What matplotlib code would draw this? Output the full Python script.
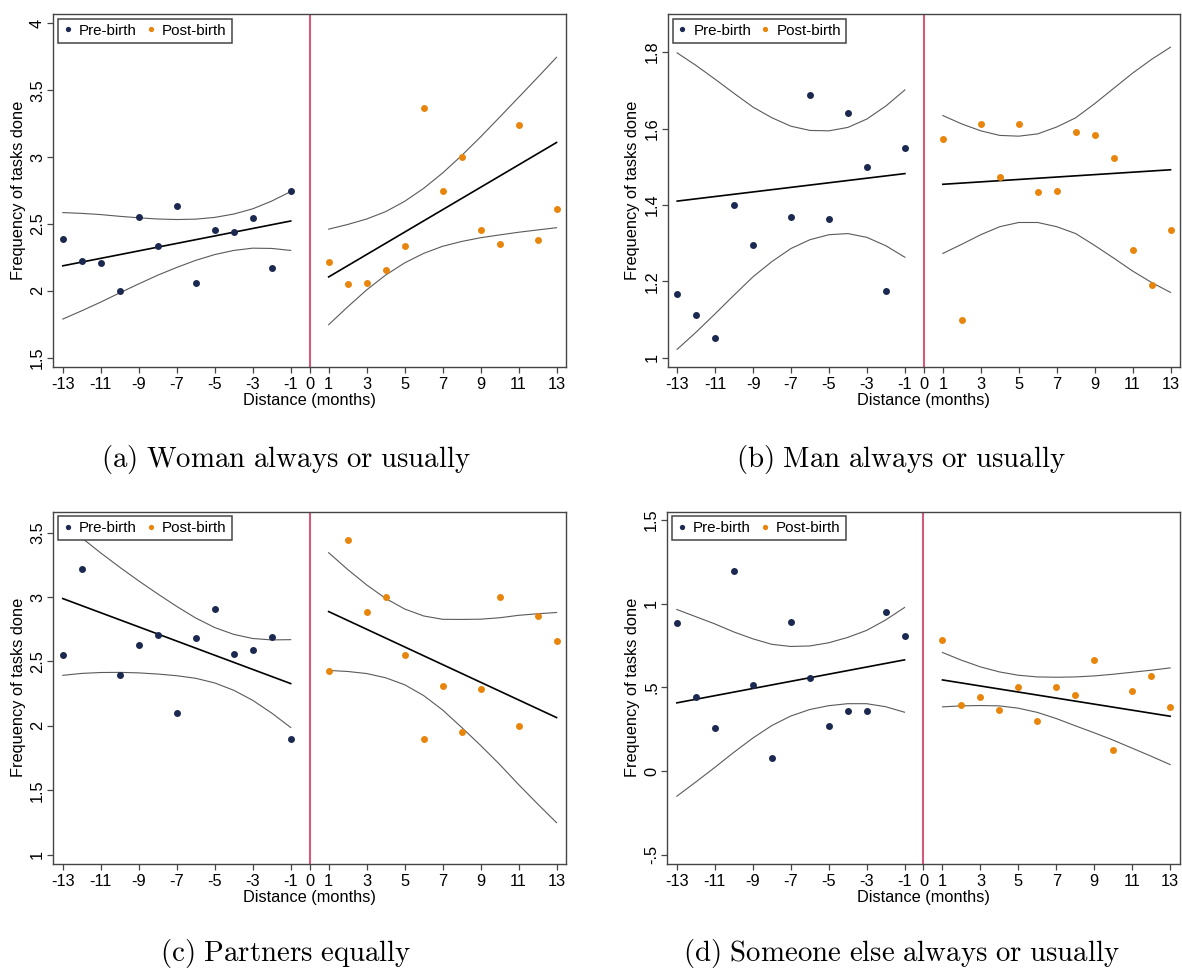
import numpy as np
import matplotlib.pyplot as plt
from matplotlib.lines import Line2D

plt.rcParams['font.family'] = ['Liberation Sans', 'DejaVu Sans']
plt.rcParams['mathtext.fontset'] = 'cm'

nan = np.nan
months_pre = np.arange(-13, 0)
months_post = np.arange(1, 14)
xticks = [-13, -11, -9, -7, -5, -3, -1, 0, 1, 3, 5, 7, 9, 11, 13]

# (a) Woman always or usually
woman_pre = [2.388, 2.221, 2.209, 2.000, 2.555, 2.333, 2.632, 2.062, 2.453, 2.440, 2.545, 2.174, 2.744]
woman_post = [2.214, 2.050, 2.055, 2.159, 2.333, 3.366, 2.749, 3.000, 2.458, 2.348, 3.239, 2.381, 2.609]
woman_fit_pre = [2.187, 2.522]
woman_fit_post = [2.104, 3.109]
woman_hi_pre = [2.585, 2.579, 2.570, 2.557, 2.546, 2.537, 2.533, 2.536, 2.549, 2.574, 2.613, 2.671, 2.742]
woman_lo_pre = [1.789, 1.851, 1.916, 1.985, 2.052, 2.117, 2.175, 2.228, 2.271, 2.302, 2.319, 2.317, 2.302]
woman_hi_post = [2.461, 2.496, 2.537, 2.592, 2.669, 2.766, 2.881, 3.011, 3.151, 3.298, 3.446, 3.595, 3.746]
woman_lo_post = [1.747, 1.880, 2.007, 2.118, 2.209, 2.280, 2.333, 2.369, 2.397, 2.418, 2.438, 2.455, 2.472]

# (b) Man always or usually
man_pre = [1.167, 1.111, 1.052, 1.400, 1.296, nan, 1.369, 1.688, 1.364, 1.641, 1.500, 1.174, 1.549]
man_post = [1.572, 1.100, 1.611, 1.474, 1.611, 1.433, 1.437, 1.592, 1.584, 1.522, 1.281, 1.191, 1.334]
man_fit_pre = [1.410, 1.482]
man_fit_post = [1.454, 1.492]
man_hi_pre = [1.798, 1.765, 1.729, 1.692, 1.656, 1.628, 1.606, 1.595, 1.594, 1.603, 1.625, 1.659, 1.701]
man_lo_pre = [1.022, 1.067, 1.115, 1.164, 1.212, 1.252, 1.286, 1.309, 1.322, 1.325, 1.315, 1.293, 1.263]
man_hi_post = [1.634, 1.612, 1.594, 1.582, 1.580, 1.586, 1.604, 1.628, 1.665, 1.705, 1.745, 1.781, 1.813]
man_lo_post = [1.273, 1.297, 1.322, 1.343, 1.354, 1.354, 1.343, 1.325, 1.294, 1.261, 1.227, 1.197, 1.171]

# (c) Partners equally
equal_pre = [2.553, 3.218, nan, 2.398, 2.625, 2.706, 2.103, 2.685, 2.905, 2.558, 2.586, 2.692, 1.901]
equal_post = [2.426, 3.446, 2.884, 3.000, 2.553, 1.895, 2.310, 1.952, 2.289, 3.000, 2.000, 2.853, 2.662]
equal_fit_pre = [2.988, 2.328]
equal_fit_post = [2.887, 2.064]
equal_hi_pre = [3.584, 3.459, 3.342, 3.231, 3.125, 3.024, 2.927, 2.837, 2.763, 2.710, 2.678, 2.667, 2.669]
equal_lo_pre = [2.392, 2.407, 2.414, 2.415, 2.411, 2.402, 2.389, 2.369, 2.333, 2.276, 2.198, 2.099, 1.987]
equal_hi_post = [3.344, 3.214, 3.094, 2.989, 2.907, 2.853, 2.827, 2.826, 2.828, 2.839, 2.858, 2.870, 2.880]
equal_lo_post = [2.430, 2.422, 2.406, 2.373, 2.319, 2.235, 2.123, 1.988, 1.848, 1.701, 1.544, 1.394, 1.248]

# (d) Someone else always or usually
other_pre = [0.886, 0.443, 0.259, 1.197, 0.514, 0.079, 0.891, 0.558, 0.269, 0.357, 0.361, 0.953, 0.804]
other_post = [0.782, 0.397, 0.441, 0.365, 0.500, 0.297, 0.500, 0.451, 0.662, 0.127, 0.477, 0.568, 0.385]
other_fit_pre = [0.407, 0.664]
other_fit_post = [0.544, 0.327]
other_hi_pre = [0.965, 0.922, 0.879, 0.831, 0.790, 0.757, 0.744, 0.747, 0.766, 0.798, 0.840, 0.902, 0.977]
other_lo_pre = [-0.151, -0.066, 0.021, 0.111, 0.196, 0.271, 0.328, 0.367, 0.390, 0.402, 0.402, 0.384, 0.351]
other_hi_post = [0.708, 0.662, 0.622, 0.592, 0.572, 0.562, 0.560, 0.562, 0.568, 0.578, 0.590, 0.602, 0.616]
other_lo_post = [0.383, 0.389, 0.391, 0.389, 0.375, 0.350, 0.313, 0.270, 0.228, 0.184, 0.136, 0.088, 0.038]

captions = ['(a) Woman always or usually', '(b) Man always or usually',
            '(c) Partners equally', '(d) Someone else always or usually']

navy = '#1b2850'
orange = '#e8850c'
line_red = '#d35a78'
frame_grey = '#454545'


def stata_label(v):
    s = f'{v:g}'
    if s.startswith('0.'):
        s = s[1:]
    elif s.startswith('-0.'):
        s = '-' + s[2:]
    return s


panels = [
    dict(pre=woman_pre, post=woman_post, fit_pre=woman_fit_pre, fit_post=woman_fit_post,
         hi_pre=woman_hi_pre, lo_pre=woman_lo_pre, hi_post=woman_hi_post, lo_post=woman_lo_post,
         yticks=[1.5, 2, 2.5, 3, 3.5, 4], ylim=(1.433, 4.07),
         rect=[0.0451, 0.6216, 0.4338, 0.3640], cap=(0.242, 0.5185)),
    dict(pre=man_pre, post=man_post, fit_pre=man_fit_pre, fit_post=man_fit_post,
         hi_pre=man_hi_pre, lo_pre=man_lo_pre, hi_post=man_hi_post, lo_post=man_lo_post,
         yticks=[1, 1.2, 1.4, 1.6, 1.8], ylim=(0.9765, 1.90),
         rect=[0.5649, 0.6216, 0.4334, 0.3640], cap=(0.7625, 0.5185)),
    dict(pre=equal_pre, post=equal_post, fit_pre=equal_fit_pre, fit_post=equal_fit_post,
         hi_pre=equal_hi_pre, lo_pre=equal_lo_pre, hi_post=equal_hi_post, lo_post=equal_lo_post,
         yticks=[1, 1.5, 2, 2.5, 3, 3.5], ylim=(0.9275, 3.663),
         rect=[0.0451, 0.1084, 0.4338, 0.3636], cap=(0.242, 0.0078)),
    dict(pre=other_pre, post=other_post, fit_pre=other_fit_pre, fit_post=other_fit_post,
         hi_pre=other_hi_pre, lo_pre=other_lo_pre, hi_post=other_hi_post, lo_post=other_lo_post,
         yticks=[-0.5, 0, 0.5, 1, 1.5], ylim=(-0.556, 1.55),
         rect=[0.5646, 0.1084, 0.4334, 0.3636], cap=(0.7625, 0.0078)),
]

fig = plt.figure(figsize=(11.82, 9.69), dpi=100)

for p, cap in zip(panels, captions):
    ax = fig.add_axes(p['rect'])

    # confidence bands and linear fits on each side of the birth
    for xs, hi, lo, fit in [(months_pre, p['hi_pre'], p['lo_pre'], p['fit_pre']),
                            (months_post, p['hi_post'], p['lo_post'], p['fit_post'])]:
        ax.plot(xs, hi, color='#5a5a5a', lw=0.8, zorder=2)
        ax.plot(xs, lo, color='#5a5a5a', lw=0.8, zorder=2)
        ax.plot([xs[0], xs[-1]], fit, color='black', lw=1.2, zorder=3)

    ax.plot(months_pre, p['pre'], 'o', color=navy, ms=5.0, mec='none', zorder=4)
    ax.plot(months_post, p['post'], 'o', color=orange, ms=5.0, mec='none', zorder=4)
    ax.axvline(0, color=line_red, lw=1.5, zorder=1)

    ax.set_xlim(-13.5, 13.5)
    ax.set_ylim(*p['ylim'])
    ax.set_xticks(xticks)
    ax.set_xticklabels([str(t) for t in xticks])
    ax.set_yticks(p['yticks'])
    ax.set_yticklabels([stata_label(v) for v in p['yticks']], rotation=90, va='center')

    for sp in ax.spines.values():
        sp.set_color(frame_grey)
        sp.set_linewidth(1.0)
    ax.tick_params(axis='both', direction='out', length=4, width=0.9, color=frame_grey,
                   labelsize=11.8, labelcolor='black')
    ax.tick_params(axis='x', pad=3.3)
    ax.tick_params(axis='y', pad=2)

    ax.set_xlabel('Distance (months)', fontsize=11.8, labelpad=0.5)
    ax.set_ylabel('Frequency of tasks done', fontsize=11.8)
    ax.yaxis.set_label_coords(-0.054, 0.5)

    handles = [Line2D([], [], ls='none', marker='o', ms=3.8, color=navy, mec='none'),
               Line2D([], [], ls='none', marker='o', ms=3.8, color=orange, mec='none')]
    leg = ax.legend(handles, ['Pre-birth', 'Post-birth'], loc='upper left', ncol=2,
                    fontsize=10.9, frameon=True, fancybox=False, framealpha=1,
                    edgecolor=frame_grey, borderpad=0.33, borderaxespad=0.32,
                    handlelength=0.6, handletextpad=0.45, columnspacing=0.6)
    leg.get_frame().set_linewidth(1.1)
    leg.set_zorder(10)

    text = cap.replace(' ', r'\ ')
    fig.text(p['cap'][0], p['cap'][1], r'$\mathrm{' + text + '}$', fontsize=20.8,
             ha='center', va='baseline')

fig.savefig('out.png', dpi=100)
